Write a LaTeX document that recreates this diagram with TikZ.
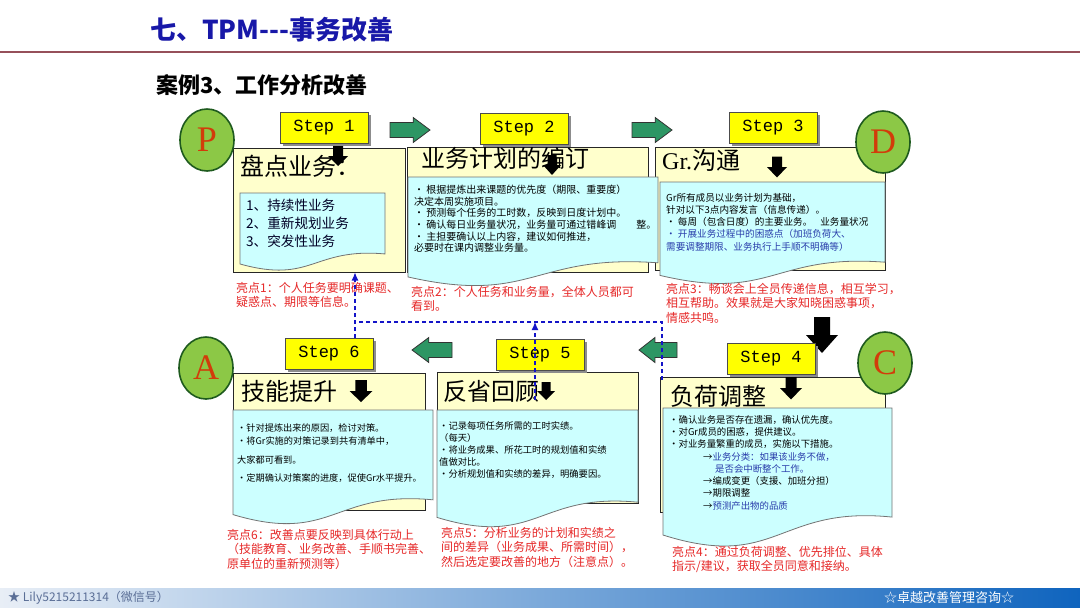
\documentclass[tikz,border=0pt]{standalone}
\usepackage{fontspec}
\setmainfont{Noto Sans CJK SC}
\newfontfamily\stepfont{Liberation Mono}
\newfontfamily\letterfont{Liberation Serif}
\usetikzlibrary{arrows.meta,shapes.geometric,shadows}
\definecolor{titleblue}{RGB}{24,24,168}
\definecolor{ruleline}{RGB}{150,80,90}
\definecolor{boxyellow}{RGB}{255,255,204}
\definecolor{doccyan}{RGB}{204,255,255}
\definecolor{stepyellow}{RGB}{255,255,0}
\definecolor{pdcagreen}{RGB}{140,200,70}
\definecolor{pdcaedge}{RGB}{30,90,30}
\definecolor{pdcaletter}{RGB}{210,60,10}
\definecolor{flowgreen}{RGB}{45,150,100}
\definecolor{notered}{RGB}{230,40,40}
\definecolor{feedblue}{RGB}{20,20,200}
\definecolor{textblue}{RGB}{40,60,170}
\definecolor{footleft}{RGB}{232,238,246}
\definecolor{footright}{RGB}{15,100,190}
\definecolor{footgray}{RGB}{90,110,150}

% document shape: left, top, right, height
\newcommand{\docshape}[4]{%
  \draw[docbox] (#1,#2) -- (#3,#2) -- (#3,{#2+0.802*#4})
    .. controls ({(#1+#3)/2},{#2+0.716*#4}) and ({(#1+#3)/2},{#2+1.2*#4}) .. (#1,{#2+0.934*#4}) -- cycle;}

\begin{document}
\begin{tikzpicture}[
  x=1pt,y=-1pt,
  yellowbox/.style={draw=black!85,line width=1pt,fill=boxyellow,inner sep=0pt},
  docbox/.style={draw=black!55,line width=0.8pt,fill=doccyan},
  stepbox/.style={draw=black!70,line width=0.8pt,fill=stepyellow,minimum width=88pt,
    minimum height=31pt,inner sep=0pt,font=\stepfont\fontsize{17}{17}\selectfont,
    drop shadow={shadow xshift=2.5pt,shadow yshift=-2.5pt,fill=black!45,opacity=1}},
  pdca/.style={ellipse,draw=pdcaedge,line width=1.6pt,fill=pdcagreen,minimum width=54pt,
    minimum height=62pt,inner sep=0pt,text=pdcaletter,font=\letterfont\fontsize{36}{36}\selectfont},
  boxtitle/.style={anchor=west,inner sep=0pt,font=\fontsize{24}{24}\selectfont},
  boxtext/.style={anchor=north west,inner sep=0pt,align=left},
  note/.style={anchor=north west,inner sep=0pt,align=left,text=notered,font=\fontsize{12}{14.5}\selectfont},
  flowarrow/.style={draw=black!80,line width=0.8pt,fill=flowgreen},
  downarrow/.style={fill=black},
  feedback/.style={draw=feedblue,line width=1.1pt,dash pattern=on 4pt off 3pt},
  feedtip/.style={-{Latex[length=8pt,width=7pt]}},
  blockarrow/.pic={\path[pic actions] (-0.5,-0.3) -- (0.08,-0.3) -- (0.08,-0.5) -- (0.5,0)
    -- (0.08,0.5) -- (0.08,0.3) -- (-0.5,0.3) -- cycle;},
  headarrow/.pic={\path[pic actions] (-0.5,-0.25) -- (0,-0.25) -- (0,-0.5) -- (0.5,0)
    -- (0,0.5) -- (0,0.25) -- (-0.5,0.25) -- cycle;}
]
\useasboundingbox (0,0) rectangle (1080,608);
\fill[white] (0,0) rectangle (1080,608);

% Heading.
\node[anchor=west,inner sep=0pt,text=titleblue,font=\bfseries\fontsize{26}{26}\selectfont] (title) at (150,30) {七、TPM-{}-{}-事务改善};
\draw[ruleline,line width=1.2pt] (0,52) -- (1080,52);
\node[anchor=west,inner sep=0pt,font=\bfseries\fontsize{22}{22}\selectfont] (caseTitle) at (156,85) {案例3、工作分析改善};

% Step boxes, upper row.
\node[yellowbox,minimum width=172pt,minimum height=124pt] (countBox) at (319,210) {};
\node[yellowbox,minimum width=241pt,minimum height=125pt] (planBox) at (527.5,209.5) {};
\node[yellowbox,minimum width=230pt,minimum height=123pt] (talkBox) at (770,208.5) {};
\docshape{240}{193}{385}{76}
\docshape{408}{177}{658}{107}
\docshape{660}{182}{885}{100}

% Step boxes, lower row.
\node[yellowbox,minimum width=192pt,minimum height=137pt] (skillBox) at (329,441.5) {};
\node[yellowbox,minimum width=201pt,minimum height=131pt] (reviewBox) at (537.5,437.5) {};
\node[yellowbox,minimum width=225pt,minimum height=135pt] (loadBox) at (772.5,444.5) {};
\docshape{233}{410}{433}{112}
\docshape{437}{410}{638}{115}
\docshape{663}{408}{892}{136}

% Box titles.
\node[boxtitle] (countTitle) at (240,166) {盘点业务：};
\node[boxtitle] (planTitle) at (421,158) {业务计划的编订};
\node[boxtitle] (talkTitle) at (662,160) {{\letterfont Gr.}沟通};
\node[boxtitle] (skillTitle) at (241,391) {技能提升};
\node[boxtitle] (reviewTitle) at (443,391) {反省回顾};
\node[boxtitle] (loadTitle) at (670,396) {负荷调整};

% Box contents.
\node[boxtext,text=black!85!blue,font=\fontsize{13.6}{18}\selectfont] (countText) at (246,199)
  {1、持续性业务\\2、重新规划业务\\3、突发性业务};
\node[boxtext,font=\fontsize{10}{11.6}\selectfont] (planText) at (414,185)
  {・ 根据提炼出来课题的优先度（期限、重要度）\\决定本周实施项目。\\・ 预测每个任务的工时数，反映到日度计划中。\\
   ・ 确认每日业务量状况，业务量可通过错峰调\hspace{20pt}整。\\・ 主担要确认以上内容，建议如何推进，\\必要时在课内调整业务量。};
\node[boxtext,font=\fontsize{9.6}{12.2}\selectfont] (talkText) at (666,193)
  {Gr所有成员以业务计划为基础，\\针对以下3点内容发言（信息传递）。\\・ 每周（包含日度）的主要业务。\hspace{8pt}业务量状况\\
   \textcolor{textblue}{・ 开展业务过程中的困惑点（加班负荷大、}\\\textcolor{textblue}{需要调整期限、业务执行上手顺不明确等）}};
\node[boxtext,font=\fontsize{9.2}{13}\selectfont] (skillText) at (237,424)
  {・针对提炼出来的原因，检讨对策。\\・将Gr实施的对策记录到共有清单中，\\[6pt]大家都可看到。\\[5pt]・定期确认对策案的进度，促使Gr水平提升。};
\node[boxtext,font=\fontsize{9.3}{12}\selectfont] (reviewText) at (439,421)
  {・记录每项任务所需的工时实绩。\\（每天）\\・将业务成果、所花工时的规划值和实绩\\值做对比。\\・分析规划值和实绩的差异，明确要因。};
\node[boxtext,font=\fontsize{9.4}{12.3}\selectfont] (loadText) at (669,415)
  {・确认业务是否存在遗漏，确认优先度。\\・对Gr成员的困惑，提供建议。\\・对业务量繁重的成员，实施以下措施。\\
   \hspace*{34pt}→\textcolor{textblue}{业务分类：如果该业务不做，}\\\hspace*{46pt}\textcolor{textblue}{是否会中断整个工作。}\\
   \hspace*{34pt}→编成变更（支援、加班分担）\\\hspace*{34pt}→期限调整\\\hspace*{34pt}→\textcolor{textblue}{预测产出物的品质}};

% Highlights.
\node[note] (countNote) at (236,282) {亮点1：个人任务要明确课题、\\疑惑点、期限等信息。};
\node[note] (planNote) at (411,286) {亮点2：个人任务和业务量，全体人员都可\\看到。};
\node[note] (talkNote) at (666,283) {亮点3：畅谈会上全员传递信息，相互学习，\\相互帮助。效果就是大家知晓困惑事项，\\情感共鸣。};
\node[note] (skillNote) at (227,529) {亮点6：改善点要反映到具体行动上\\（技能教育、业务改善、手顺书完善、\\原单位的重新预测等）};
\node[note] (reviewNote) at (441,527) {亮点5：分析业务的计划和实绩之\\间的差异（业务成果、所需时间），\\然后选定要改善的地方（注意点）。};
\node[note] (loadNote) at (672,546) {亮点4：通过负荷调整、优先排位、具体\\指示/建议，获取全员同意和接纳。};

% Small black arrows under the steps.
\pic[downarrow,rotate=-90,xscale=20,yscale=20] at (338,156) {headarrow};
\pic[downarrow,rotate=-90,xscale=20,yscale=18] at (552,165) {headarrow};
\pic[downarrow,rotate=-90,xscale=21,yscale=20] at (777,167) {headarrow};
\pic[downarrow,rotate=-90,xscale=22,yscale=23] at (361,391) {headarrow};
\pic[downarrow,rotate=-90,xscale=18,yscale=18] at (546,391) {headarrow};
\pic[downarrow,rotate=-90,xscale=23,yscale=22] at (791,388) {headarrow};
\pic[downarrow,rotate=-90,xscale=36,yscale=32] at (822,335) {headarrow};

% Step labels.
\node[stepbox] (stepOne) at (324,128) {Step 1};
\node[stepbox] (stepTwo) at (524,129) {Step 2};
\node[stepbox] (stepThree) at (773,128) {Step 3};
\node[stepbox] (stepFour) at (771,359) {Step 4};
\node[stepbox] (stepFive) at (540,355) {Step 5};
\node[stepbox] (stepSix) at (329,354) {Step 6};

% Flow between steps.
\pic[flowarrow,xscale=40,yscale=25] at (410,130) {blockarrow};
\pic[flowarrow,xscale=40,yscale=25] at (652,130) {blockarrow};
\pic[flowarrow,rotate=180,xscale=40,yscale=25] at (432,350) {blockarrow};
\pic[flowarrow,rotate=180,xscale=38,yscale=25] at (658,350) {blockarrow};

% PDCA circles.
\node[pdca] (plan) at (207,140) {P};
\node[pdca] (do) at (883,142) {D};
\node[pdca] (check) at (885,363) {C};
\node[pdca] (act) at (206,368) {A};

% Feedback loop.
\coordinate (loopRight) at (662,380);
\coordinate (loopRightTop) at (662,322);
\coordinate (loopLeft) at (355,322);
\coordinate (loopMid) at (535,322);
\coordinate (loopMidLow) at (535,400);
\draw[feedback] (loopRight) -- (loopRightTop) -- (loopLeft);
\draw[feedback,feedtip] (stepSix.north -| loopLeft) -- (countBox.south -| loopLeft);
\draw[feedback,feedtip] (loopMidLow) -- (loopMid);

% Footer.
\shade[left color=footleft,right color=footright] (0,588) rectangle (1080,608);
\node[anchor=west,inner sep=0pt,text=footgray,font=\fontsize{12}{12}\selectfont] (wechat) at (8,598) {★ Lily5215211314（微信号）};
\node[inner sep=0pt,text=white,font=\fontsize{13}{13}\selectfont] (brand) at (949,598) {☆卓越改善管理咨询☆};
\end{tikzpicture}
\end{document}
